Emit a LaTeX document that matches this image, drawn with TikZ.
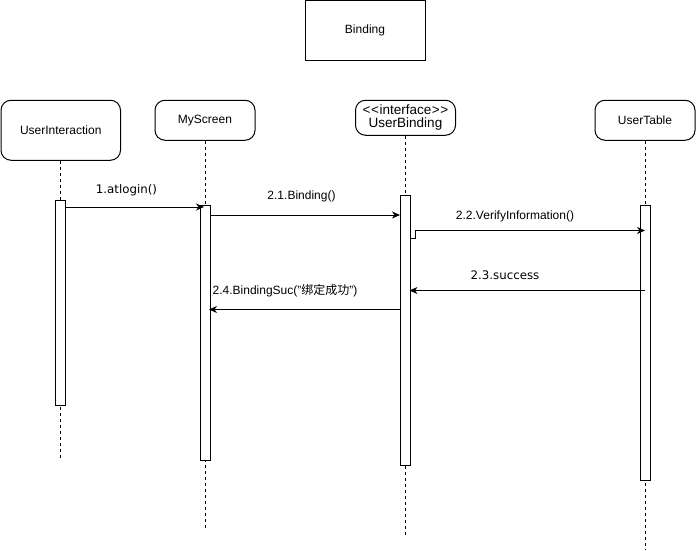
\documentclass[tikz,border=0pt]{standalone}
\usepackage{fontspec}
\setmainfont{Liberation Sans}
\newfontfamily\dejavu{DejaVu Sans}
\newfontfamily\cjk{Noto Sans CJK SC}
\usetikzlibrary{arrows.meta}
\begin{document}
\begin{tikzpicture}[x=1pt,y=-1pt,
  every node/.style={font=\fontsize{12}{14}\selectfont, inner sep=0pt},
  titlebox/.style={draw, line width=1pt, minimum width=120pt, minimum height=60pt},
  partbox/.style={draw, line width=1pt, rounded corners=10pt, minimum width=100pt, minimum height=40pt, align=center},
  lifeline/.style={line width=1pt, dash pattern=on 3pt off 3pt},
  actbar/.style={draw, line width=1pt, fill=white, minimum width=10pt},
  msg/.style={line width=1pt, -{Stealth[length=8pt,width=7pt,inset=2.5pt]}},
  lbl/.style={font=\fontsize{12}{14}\selectfont},
  lblb/.style={font=\dejavu\fontsize{11.8}{14}\selectfont}]
\fill[white] (0,0) rectangle (696,551);
\useasboundingbox (0,0) rectangle (696,551);
% title
\node[titlebox] (title) at (365,30.5) {Binding};
% participants
\node[partbox, minimum width=119.5pt, minimum height=60pt] (ui) at (60.75,130.25) {UserInteraction};
\node[partbox] (ms) at (205,120.25) {MyScreen};
\node[partbox, minimum height=35pt, font=\fontsize{13.5}{12.5}\selectfont] (ub) at (405.5,117.75) {{<}\kern0.6pt{<}\kern0.6pt interface\kern0.6pt{>}\kern0.6pt{>}\\UserBinding};
\node[partbox] (ut) at (645,120.25) {UserTable};
% lifeline ends
\coordinate (uiend) at (60.75,460);
\coordinate (msend) at (205,528);
\coordinate (ubend) at (405.5,535);
\coordinate (utend) at (645,550);
\draw[lifeline] (ui.south) -- (uiend);
\draw[lifeline] (ms.south) -- (msend);
\draw[lifeline] (ub.south) -- (ubend);
\draw[lifeline] (ut.south) -- (utend);
% activation bars
\node[actbar, minimum height=205pt] (a1) at (60.75,302.5) {};
\node[actbar, minimum height=255pt] (a2) at (205,332.5) {};
\node[actbar, minimum height=270pt] (a3) at (405.5,330) {};
\node[actbar, minimum height=275pt] (a4) at (645,342.5) {};
% messages
\draw[msg] (a1.east |- 0,207) -- ([xshift=-1pt]a2.center |- 0,207);
\node[lblb] (l1) at (126.5,190.5) {1.atlogin()};
\draw[msg] (a2.east |- 0,215) -- (a3.west |- 0,215);
\node[lbl] (l2) at (301.5,196.5) {2.1.Binding()};
\coordinate (bend1) at (415,238);
\draw[msg] (a3.east |- 0,238) -- (bend1) -- (415,230.5) -- (a4.center |- 0,230.5);
\node[lbl] (l3) at (515,216) {2.2.VerifyInformation()};
\draw[msg] (a4.center |- 0,290.5) -- ([xshift=-1.5pt]a3.east |- 0,290.5);
\node[lblb] (l4) at (505,275) {2.3.success};
\draw[msg] (a3.west |- 0,309.5) -- ([xshift=-1.5pt]a2.east |- 0,309.5);
\node[lbl, anchor=west] (l5) at (212.5,291) {2.4.BindingSuc("{\cjk 绑定成功}")};
\end{tikzpicture}
\end{document}
